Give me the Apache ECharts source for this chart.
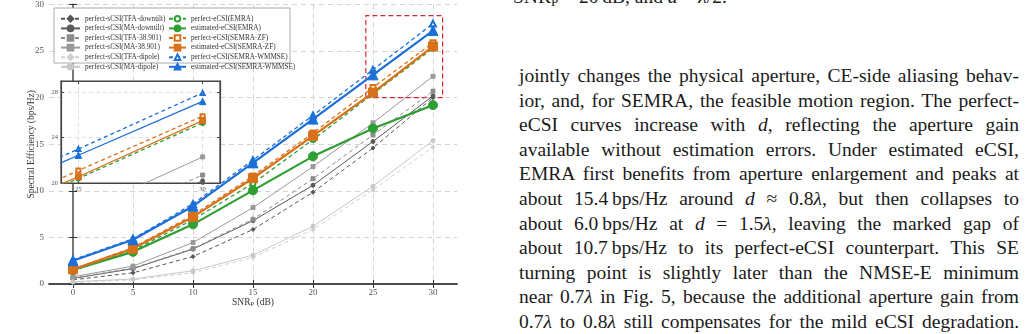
<!DOCTYPE html>
<html>
<head>
<meta charset="utf-8">
<script src="https://cdn.jsdelivr.net/npm/echarts@6/dist/echarts.min.js"></script>
<style>
html, body { margin: 0; padding: 0; background: #fff; width: 1028px; height: 334px; overflow: hidden; }
#chart { position: absolute; left: 0; top: 0; width: 470px; height: 334px; }
.txt { position: absolute; font-family: "Liberation Serif", "DejaVu Serif", serif; font-size: 19.5px; line-height: 24.6px; color: #1a1a1a; }
#head { left: 513px; top: -15px; white-space: nowrap; }
#para { left: 519px; top: 64px; width: 500px; }
#para div { text-align: justify; text-align-last: justify; white-space: nowrap; }
sub { font-size: 13px; vertical-align: -3px; line-height: 0; }
</style>
</head>
<body>
<div id="chart"></div>
<div class="txt" id="head">SNR<sub>P</sub> = 20&#8201;dB, and <i>d</i> = <i>λ</i>/2.</div>
<div class="txt" id="para">
  <div>jointly changes the physical aperture, CE-side aliasing behav-</div>
  <div>ior, and, for SEMRA, the feasible motion region. The perfect-</div>
  <div>eCSI curves increase with <i>d</i>, reflecting the aperture gain</div>
  <div>available without estimation errors. Under estimated eCSI,</div>
  <div>EMRA first benefits from aperture enlargement and peaks at</div>
  <div>about 15.4&#8201;bps/Hz around <i>d</i> ≈ 0.8<i>λ</i>, but then collapses to</div>
  <div>about 6.0&#8201;bps/Hz at <i>d</i> = 1.5<i>λ</i>, leaving the marked gap of</div>
  <div>about 10.7&#8201;bps/Hz to its perfect-eCSI counterpart. This SE</div>
  <div>turning point is slightly later than the NMSE-E minimum</div>
  <div>near 0.7<i>λ</i> in Fig. 5, because the additional aperture gain from</div>
  <div>0.7<i>λ</i> to 0.8<i>λ</i> still compensates for the mild eCSI degradation.</div>
</div>
<script>
// SNR_P (dB) sample points
const snr = [0, 5, 10, 15, 20, 25, 30]
// spectral efficiency (bps/Hz)
const tfaDowntilt = [0.45, 1.2, 2.95, 5.85, 9.85, 14.6, 20.0]
const maDowntilt = [0.6, 1.65, 3.75, 6.8, 10.6, 15.3, 20.2]
const tfa38901 = [0.65, 1.7, 3.8, 6.95, 11.3, 16.0, 20.7]
const ma38901 = [0.78, 1.92, 4.45, 8.2, 12.6, 17.3, 22.3]
const tfaDipole = [0.15, 0.45, 1.2, 2.85, 5.85, 10.1, 14.7]
const maDipole = [0.25, 0.53, 1.42, 3.1, 6.2, 10.5, 15.4]
const perfEmra = [1.45, 3.6, 6.9, 10.8, 15.5, 20.4, 25.3]
const estEmra = [1.5, 3.45, 6.4, 10.05, 13.7, 16.7, 19.2]
const perfZf = [1.6, 3.9, 7.4, 11.6, 16.2, 21.1, 25.9]
const estZf = [1.57, 3.8, 7.2, 11.35, 15.9, 20.55, 25.5]
const perfWmmse = [2.6, 4.85, 8.6, 13.3, 18.1, 23.0, 27.95]
const estWmmse = [2.5, 4.75, 8.35, 13.0, 17.7, 22.45, 27.2]

// tick labels
const mainTicks = [0, 5, 10, 15, 20, 25, 30]
const insetXTicks = [25, 30]
const insetYTicks = [20, 24, 28]
// zoomed window (dB, bps/Hz)
const zoomX = [24.4, 30.8]
const zoomY = [20, 28.8]

const FONT = '"Liberation Serif", "DejaVu Serif", serif'
const GREEN = '#2f9e33'
const ORANGE = '#d8711a'
const BLUE = '#1a6fd8'

const curves = [
    { name: 'perfect-sCSI(TFA-downtilt)', data: tfaDowntilt, color: '#555', dash: true, symbol: 'diamond', size: 4, width: 1 },
    { name: 'perfect-sCSI(MA-downtilt)', data: maDowntilt, color: '#595959', dash: false, symbol: 'circle', size: 4, width: 1 },
    { name: 'perfect-sCSI(TFA-38.901)', data: tfa38901, color: '#8c8c8c', dash: true, symbol: 'rect', size: 4, width: 1 },
    { name: 'perfect-sCSI(MA-38.901)', data: ma38901, color: '#999', dash: false, symbol: 'rect', size: 4, width: 1 },
    { name: 'perfect-sCSI(TFA-dipole)', data: tfaDipole, color: '#cfcfcf', dash: true, symbol: 'diamond', size: 4, width: 1 },
    { name: 'perfect-sCSI(MA-dipole)', data: maDipole, color: '#c8c8c8', dash: false, symbol: 'circle', size: 4, width: 1 },
    { name: 'perfect-eCSI(EMRA)', data: perfEmra, color: GREEN, dash: true, symbol: 'emptyCircle', size: 5, width: 1.3 },
    { name: 'estimated-eCSI(EMRA)', data: estEmra, color: GREEN, dash: false, symbol: 'circle', size: 9, width: 2.2 },
    { name: 'perfect-eCSI(SEMRA-ZF)', data: perfZf, color: ORANGE, dash: true, symbol: 'emptyRect', size: 5, width: 1.3 },
    { name: 'estimated-eCSI(SEMRA-ZF)', data: estZf, color: ORANGE, dash: false, symbol: 'rect', size: 9, width: 2.2 },
    { name: 'perfect-eCSI(SEMRA-WMMSE)', data: perfWmmse, color: BLUE, dash: true, symbol: 'emptyTriangle', size: 6, width: 1.3 },
    { name: 'estimated-eCSI(SEMRA-WMMSE)', data: estWmmse, color: BLUE, dash: false, symbol: 'triangle', size: 10, width: 2.2 }
]

function makeSeries(c, axisIdx, inset) {
    return {
        type: 'line',
        name: c.name,
        xAxisIndex: axisIdx,
        yAxisIndex: axisIdx,
        data: snr.map((x, i) => [x, c.data[i]]),
        symbol: c.symbol,
        symbolSize: inset ? Math.max(4, c.size * 0.65) : c.size,
        lineStyle: { color: c.color, width: inset ? Math.min(c.width, 1.3) : c.width, type: c.dash ? [4, 3] : 'solid' },
        itemStyle: { color: c.color, borderColor: c.color, borderWidth: 1 },
        z: inset ? 12 : 2,
        silent: true
    }
}

const series = curves.map(c => makeSeries(c, 0, false))
// red dashed box marking the zoomed region
series[0].markArea = {
    silent: true,
    itemStyle: { color: 'rgba(0,0,0,0)', borderColor: '#d62728', borderWidth: 1.2, borderType: [5, 3] },
    data: [[{ coord: [zoomX[0], zoomY[0]] }, { coord: [zoomX[1], zoomY[1]] }]]
}
curves.forEach(c => series.push(makeSeries(c, 2, true)))

const labelStyle = { fontFamily: FONT, fontSize: 9, color: '#555' }
const insetLabel = { fontFamily: FONT, fontSize: 6.5, color: '#555' }
const dashGrid = { show: true, lineStyle: { color: '#d4d4d4', type: [5, 4], width: 1 } }

const chart = echarts.init(document.getElementById('chart'), null, { renderer: 'canvas' })
chart.setOption({
    animation: false,
    backgroundColor: '#fff',
    grid: [
        { left: 49, top: 3, width: 408, height: 281 },
        { left: 61, top: 81, width: 159, height: 102, show: true, backgroundColor: '#fff', borderColor: '#444', borderWidth: 1.2, z: 10 }
    ],
    xAxis: [
        {
            type: 'value', gridIndex: 0, min: -2, max: 32,
            name: 'SNR{s|P} (dB)', nameLocation: 'middle', nameGap: 12, nameMoveOverlap: false,
            nameTextStyle: { fontFamily: FONT, fontSize: 9.5, color: '#333', rich: { s: { fontFamily: FONT, fontSize: 6.5, color: '#333', padding: [5, 0, 0, 0] } } },
            axisLine: { lineStyle: { color: '#333', width: 1.5 } },
            axisTick: { inside: true, length: 4, customValues: mainTicks, lineStyle: { color: '#333' } },
            axisLabel: Object.assign({ customValues: mainTicks, margin: 4 }, labelStyle),
            splitLine: dashGrid
        },
        {
            type: 'value', gridIndex: 0, min: -2, max: 32, position: 'top',
            axisLine: { lineStyle: { color: '#444', width: 1.5 } },
            axisTick: { inside: true, length: 4, customValues: mainTicks, lineStyle: { color: '#333' } },
            axisLabel: { show: false }, splitLine: { show: false }
        },
        {
            type: 'value', gridIndex: 1, min: 24.3, max: 30.7, z: 11,
            axisLine: { lineStyle: { color: '#444', width: 1.2 } },
            axisTick: { inside: true, length: 3, customValues: insetXTicks, lineStyle: { color: '#444' } },
            axisLabel: Object.assign({ customValues: insetXTicks, margin: 3 }, insetLabel),
            splitLine: { show: true, lineStyle: { color: '#e0e0e0', type: [4, 3] } }
        },
        {
            type: 'value', gridIndex: 1, min: 24.3, max: 30.7, position: 'top', z: 11,
            axisLine: { lineStyle: { color: '#444', width: 1.2 } },
            axisTick: { inside: true, length: 3, customValues: insetXTicks, lineStyle: { color: '#444' } },
            axisLabel: { show: false }, splitLine: { show: false }
        }
    ],
    yAxis: [
        {
            type: 'value', gridIndex: 0, min: 0, max: 30, interval: 5,
            name: 'Spectral Efficiency (bps/Hz)', nameLocation: 'middle', nameGap: 13, nameMoveOverlap: false,
            nameTextStyle: { fontFamily: FONT, fontSize: 9.5, color: '#333' },
            axisLine: { lineStyle: { color: '#333', width: 1.5 } },
            axisTick: { inside: true, length: 4, lineStyle: { color: '#333' } },
            axisLabel: Object.assign({ margin: 5 }, labelStyle),
            splitLine: dashGrid
        },
        {
            type: 'value', gridIndex: 0, min: 0, max: 30, interval: 5, position: 'right',
            axisLine: { lineStyle: { color: '#777', width: 2 } },
            axisTick: { inside: true, length: 4, lineStyle: { color: '#333' } },
            axisLabel: { show: false }, splitLine: { show: false }
        },
        {
            type: 'value', gridIndex: 1, min: 20, max: 29, z: 11,
            axisLine: { lineStyle: { color: '#444', width: 1.2 } },
            axisTick: { inside: true, length: 3, customValues: insetYTicks, lineStyle: { color: '#444' } },
            axisLabel: Object.assign({ customValues: insetYTicks, margin: 3 }, insetLabel),
            splitLine: { show: true, lineStyle: { color: '#e0e0e0', type: [4, 3] } }
        },
        {
            type: 'value', gridIndex: 1, min: 20, max: 29, position: 'right', z: 11,
            axisLine: { lineStyle: { color: '#444', width: 1.2 } },
            axisTick: { inside: true, length: 3, customValues: insetYTicks, lineStyle: { color: '#444' } },
            axisLabel: { show: false }, splitLine: { show: false }
        }
    ],
    legend: [
        {
            orient: 'vertical', left: 55, top: 10, z: 20,
            itemWidth: 19, itemHeight: 7, itemGap: 2,
            textStyle: { fontFamily: FONT, fontSize: 7.2, color: '#333', lineHeight: 7 },
            data: curves.slice(0, 6).map(c => c.name)
        },
        {
            orient: 'vertical', left: 163, top: 10, z: 20,
            itemWidth: 17, itemHeight: 7, itemGap: 2,
            textStyle: { fontFamily: FONT, fontSize: 7.2, color: '#333', lineHeight: 7 },
            data: curves.slice(6).map(c => c.name)
        }
    ],
    graphic: [
        { type: 'rect', z: 15, silent: true, shape: { x: 54, y: 8, width: 236, height: 55 }, style: { fill: '#fff', stroke: '#aaa', lineWidth: 1 } }
    ],
    series: series
})
</script>
</body>
</html>
